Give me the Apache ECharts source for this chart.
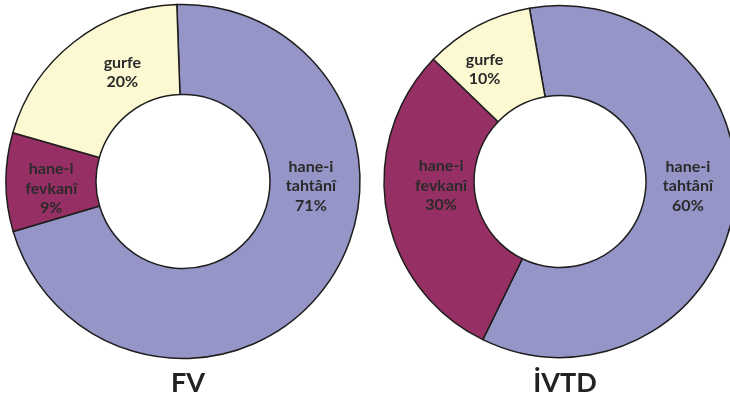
<!DOCTYPE html>
<html>
<head>
<meta charset="utf-8">
<script src="https://cdn.jsdelivr.net/npm/echarts@6/dist/echarts.min.js"></script>
<style>
html,body{margin:0;padding:0;background:#fff;}
#chart{width:730px;height:405px;}
</style>
</head>
<body>
<div id="chart"></div>
<script>
// categories
const categories = ['hane-i tahtânî', 'hane-i fevkanî', 'gurfe'];
const labelNames = ['hane-i\ntahtânî', 'hane-i\nfevkanî', 'gurfe'];
// series values (percent)
const valuesFV = [71, 9, 20];
const valuesIVTD = [60, 30, 10];
// chart titles
const titles = ['FV', 'İVTD'];

const colors = ['#9595c7', '#962f63', '#fbf8d2'];

// layout (positions kept separate from data)
const layouts = [
  { center: [183, 181.5], radius: [87, 177], startAngle: 92,
    labelAnchors: [[92, 128], [267, 132], [331, 125]] },
  { center: [560, 181.5], radius: [86, 176], startAngle: 100,
    labelAnchors: [[92, 128], [268, 119], [326, 135]] }
];

function makeSeries(values, lay) {
  return {
    type: 'pie',
    center: lay.center,
    radius: lay.radius,
    startAngle: lay.startAngle,
    clockwise: true,
    avoidLabelOverlap: false,
    silent: true,
    data: categories.map((c, i) => ({
      name: c,
      value: values[i],
      itemStyle: { color: colors[i] },
      label: { formatter: labelNames[i] + '\n{d}%' }
    })),
    itemStyle: { borderColor: '#1e1e1e', borderWidth: 1.5 },
    label: {
      show: true,
      position: 'inside',
      color: '#2a2a2a',
      fontFamily: 'Lato',
      fontWeight: 'bold',
      fontSize: 16,
      lineHeight: 19.5,
      align: 'center'
    },
    labelLine: { show: false },
    labelLayout: function (params) {
      const a = lay.labelAnchors[params.dataIndex];
      const rad = a[0] * Math.PI / 180;
      return {
        x: lay.center[0] + a[1] * Math.sin(rad),
        y: lay.center[1] - a[1] * Math.cos(rad),
        align: 'center',
        verticalAlign: 'middle'
      };
    }
  };
}

const chart = echarts.init(document.getElementById('chart'), null, { renderer: 'canvas' });
chart.setOption({
  animation: false,
  backgroundColor: '#ffffff',
  title: titles.map((t, i) => ({
    text: t,
    left: layouts[i].center[0],
    top: 365,
    textAlign: 'center',
    textStyle: { fontFamily: 'Lato', fontWeight: 'bold', fontSize: 27, color: '#222222' }
  })),
  series: [
    makeSeries(valuesFV, layouts[0]),
    makeSeries(valuesIVTD, layouts[1])
  ]
});
</script>
</body>
</html>
